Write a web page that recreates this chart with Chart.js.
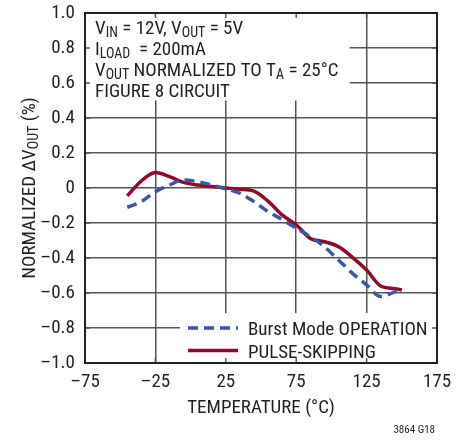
<!DOCTYPE html>
<html lang="en">
<head>
    <meta charset="UTF-8">
    <title>Normalized Vout vs Temperature</title>
    <script src="https://cdn.jsdelivr.net/npm/chart.js"></script>
    <style>
        body { margin: 0; background: white; }
        canvas { display: block; }
    </style>
</head>
<body>
<canvas id="tempChart" width="468" height="444"></canvas>

<script>
    // values
    const tempC = [-45, -35, -25, -15, -5, 5, 15, 25, 35, 45, 55, 65, 75, 85, 95, 105, 115, 125, 135, 145, 150];
    const burstMode = [-0.11, -0.078, -0.021, 0.017, 0.046, 0.036, 0.017, -0.005, -0.03, -0.078, -0.135, -0.18, -0.23, -0.278, -0.335, -0.411, -0.488, -0.554, -0.62, -0.593, -0.57];
    const pulseSkipping = [-0.045, 0.04, 0.088, 0.065, 0.032, 0.017, 0.008, 0.0, -0.007, -0.018, -0.075, -0.154, -0.21, -0.288, -0.307, -0.335, -0.396, -0.469, -0.56, -0.575, -0.583];
    const seriesNames = ['Burst Mode OPERATION', 'PULSE-SKIPPING'];
    const xTicks = [-75, -25, 25, 75, 125, 175];
    const yTicks = [-1.0, -0.8, -0.6, -0.4, -0.2, 0, 0.2, 0.4, 0.6, 0.8, 1.0];

    const FONT = "'Roboto Condensed', 'DejaVu Sans Condensed', sans-serif";
    const SIZE = 19;
    const TEXT = '#231f20';
    const GRID = '#555';
    const BLUE = '#3c56a6';
    const RED = '#8e0a2a';

    function fmt(v, digits) {
        if (v === 0) return '0';
        const s = Math.abs(v).toFixed(digits);
        return v < 0 ? '\u2013' + s : s;
    }

    // text runs with subscripts
    function setFont(ctx, sub) {
        ctx.font = (sub ? 14 : SIZE) + 'px ' + FONT;
    }
    function richWidth(ctx, parts) {
        let w = 0;
        parts.forEach(p => { setFont(ctx, p.sub); w += ctx.measureText(p.t).width; });
        return w;
    }
    function drawRich(ctx, parts, x, y) {
        parts.forEach(p => {
            setFont(ctx, p.sub);
            ctx.fillText(p.t, x, p.sub ? y + 3 : y);
            x += ctx.measureText(p.t).width;
        });
    }

    const notes = [
        [{t: 'V'}, {t: 'IN', sub: true}, {t: ' = 12V, V'}, {t: 'OUT', sub: true}, {t: ' = 5V'}],
        [{t: 'I'}, {t: 'LOAD', sub: true}, {t: '  = 200mA'}],
        [{t: 'V'}, {t: 'OUT', sub: true}, {t: ' NORMALIZED TO T'}, {t: 'A', sub: true}, {t: ' = 25\u00B0C'}],
        [{t: 'FIGURE 8 CIRCUIT'}]
    ];

    const decorPlugin = {
        id: 'decor',
        beforeDatasetsDraw(chart) {
            const ctx = chart.ctx, a = chart.chartArea;
            const x = chart.scales.x, y = chart.scales.y;
            ctx.save();
            // blank areas behind notes and legend
            ctx.fillStyle = 'white';
            ctx.fillRect(a.left, a.top, x.getPixelForValue(113) - a.left, y.getPixelForValue(0.5) - a.top);
            ctx.fillRect(x.getPixelForValue(-7.5), y.getPixelForValue(-0.715), a.right - x.getPixelForValue(-7.5), a.bottom - y.getPixelForValue(-0.715));
            // small inward ticks on the frame
            ctx.strokeStyle = GRID;
            ctx.lineWidth = 1.5;
            ctx.beginPath();
            xTicks.forEach(v => {
                const px = x.getPixelForValue(v);
                ctx.moveTo(px, a.top); ctx.lineTo(px, a.top + 5);
                ctx.moveTo(px, a.bottom); ctx.lineTo(px, a.bottom - 5);
            });
            yTicks.forEach(v => {
                const py = y.getPixelForValue(v);
                ctx.moveTo(a.left, py); ctx.lineTo(a.left + 5, py);
                ctx.moveTo(a.right, py); ctx.lineTo(a.right - 5, py);
            });
            ctx.stroke();
            // frame
            ctx.strokeStyle = '#222';
            ctx.lineWidth = 2;
            ctx.strokeRect(a.left, a.top, a.right - a.left, a.bottom - a.top);
            ctx.restore();
        },
        afterDatasetsDraw(chart) {
            const ctx = chart.ctx, a = chart.chartArea;
            ctx.save();
            ctx.fillStyle = TEXT;
            ctx.textBaseline = 'alphabetic';
            ctx.textAlign = 'left';

            // condition notes
            notes.forEach((line, i) => drawRich(ctx, line, 95, 34 + i * 21));

            // legend
            chart.data.datasets.forEach((ds, i) => {
                const ly = 328 + i * 22.5;
                ctx.strokeStyle = ds.borderColor;
                ctx.lineWidth = ds.borderWidth;
                ctx.setLineDash(ds.borderDash || []);
                ctx.beginPath();
                ctx.moveTo(188, ly);
                ctx.lineTo(238, ly);
                ctx.stroke();
                ctx.setLineDash([]);
                setFont(ctx, false);
                ctx.fillText(ds.label, 248, ly + 7);
            });

            // x title
            setFont(ctx, false);
            ctx.textAlign = 'center';
            ctx.fillText('TEMPERATURE (\u00B0C)', (a.left + a.right) / 2, 413);

            // y title, rotated
            const yParts = [{t: 'NORMALIZED \u0394V'}, {t: 'OUT', sub: true}, {t: ' (%)'}];
            const w = richWidth(ctx, yParts);
            ctx.translate(35, (a.top + a.bottom) / 2);
            ctx.rotate(-Math.PI / 2);
            ctx.textAlign = 'left';
            drawRich(ctx, yParts, -w / 2, 0);
            ctx.setTransform(1, 0, 0, 1, 0, 0);

            // figure code
            ctx.font = '11px ' + FONT;
            ctx.textAlign = 'right';
            ctx.fillText('3864 G18', 435, 433);
            ctx.restore();
        }
    };

    new Chart(document.getElementById('tempChart'), {
        type: 'line',
        data: {
            datasets: [
                {
                    label: seriesNames[0],
                    data: tempC.map((t, i) => ({ x: t, y: burstMode[i] })),
                    borderColor: BLUE,
                    borderWidth: 3.5,
                    borderDash: [10, 6],
                    pointRadius: 0,
                    cubicInterpolationMode: 'monotone',
                    fill: false
                },
                {
                    label: seriesNames[1],
                    data: tempC.map((t, i) => ({ x: t, y: pulseSkipping[i] })),
                    borderColor: RED,
                    borderWidth: 3.5,
                    pointRadius: 0,
                    cubicInterpolationMode: 'monotone',
                    fill: false
                }
            ]
        },
        options: {
            responsive: false,
            animation: false,
            layout: { padding: { top: 13, right: 31, left: 0, bottom: 0 } },
            plugins: { legend: { display: false }, tooltip: { enabled: false } },
            scales: {
                x: {
                    type: 'linear',
                    min: -75, max: 175,
                    afterBuildTicks: s => { s.ticks = xTicks.map(v => ({ value: v })); },
                    afterFit: s => { s.height = 81; s.paddingLeft = 0; s.paddingRight = 0; },
                    ticks: { callback: v => fmt(v, 0), font: { family: FONT, size: SIZE }, color: TEXT, padding: 8, maxRotation: 0 },
                    grid: { color: GRID, lineWidth: 1.5, drawTicks: false },
                    border: { display: false }
                },
                y: {
                    type: 'linear',
                    min: -1, max: 1,
                    afterBuildTicks: s => { s.ticks = yTicks.map(v => ({ value: v })); },
                    afterFit: s => { s.width = 85; s.paddingTop = 0; s.paddingBottom = 0; },
                    ticks: { callback: v => fmt(v, 1), font: { family: FONT, size: SIZE }, color: TEXT, padding: 10 },
                    grid: { color: GRID, lineWidth: 1.5, drawTicks: false },
                    border: { display: false }
                }
            }
        },
        plugins: [decorPlugin]
    });
</script>
</body>
</html>
